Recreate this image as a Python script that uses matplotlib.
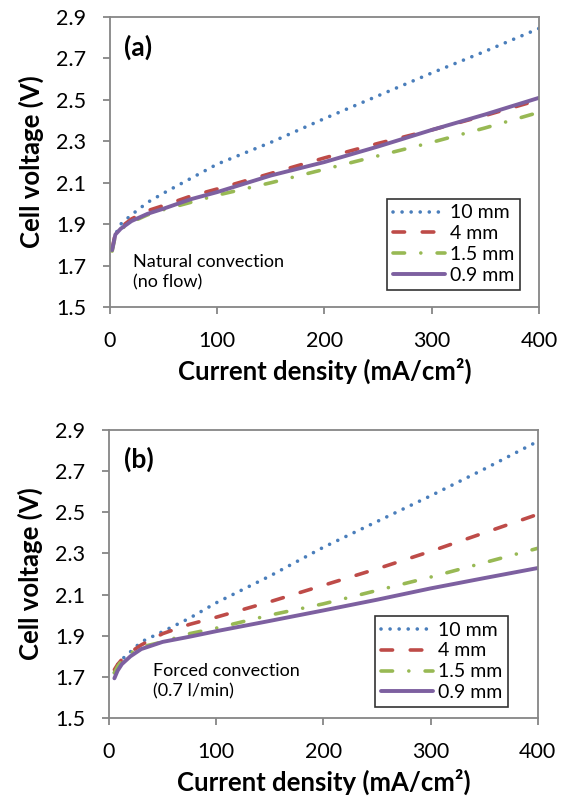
import matplotlib
matplotlib.use("Agg")
import matplotlib.pyplot as plt

plt.rcParams['font.family'] = ['Lato', 'DejaVu Sans']

# ---------------- data ----------------
labels = ["10 mm", "4 mm", "1.5 mm", "0.9 mm"]

x_a = [2, 5, 10, 20, 35, 50, 75, 100, 150, 200, 250, 300, 350, 400]
v_a_10 = [1.78, 1.85, 1.90, 1.945, 2.005, 2.05, 2.12, 2.19, 2.295, 2.41, 2.52, 2.63, 2.735, 2.845]
v_a_4 = [1.78, 1.855, 1.885, 1.925, 1.965, 1.99, 2.035, 2.07, 2.145, 2.22, 2.29, 2.355, 2.425, 2.50]
v_a_15 = [1.77, 1.845, 1.875, 1.91, 1.945, 1.97, 2.005, 2.04, 2.10, 2.165, 2.23, 2.295, 2.365, 2.44]
v_a_09 = [1.775, 1.85, 1.878, 1.915, 1.95, 1.975, 2.02, 2.055, 2.135, 2.20, 2.275, 2.355, 2.43, 2.51]

x_b = [5, 8, 12, 20, 30, 50, 75, 100, 150, 200, 250, 300, 350, 400]
v_b_10 = [1.72, 1.76, 1.785, 1.822, 1.87, 1.92, 1.985, 2.06, 2.19, 2.33, 2.455, 2.58, 2.71, 2.845]
v_b_4 = [1.735, 1.76, 1.785, 1.82, 1.855, 1.91, 1.955, 1.99, 2.065, 2.145, 2.225, 2.31, 2.40, 2.49]
v_b_15 = [1.72, 1.75, 1.78, 1.815, 1.845, 1.87, 1.91, 1.937, 2.0, 2.055, 2.12, 2.185, 2.255, 2.325]
v_b_09 = [1.693, 1.73, 1.762, 1.80, 1.835, 1.87, 1.895, 1.922, 1.972, 2.023, 2.075, 2.13, 2.18, 2.229]

x_ticks = [0, 100, 200, 300, 400]
y_ticks = [1.5, 1.7, 1.9, 2.1, 2.3, 2.5, 2.7, 2.9]

# ---------------- styles ----------------
colors = ["#4A7EBB", "#BE4B48", "#98B954", "#7D60A0"]
styles = [(0, (0.01, 2.5)), (0, (3.2, 4.9)), (0, (3.2, 4.5, 0.01, 4.5)), "-"]
widths = [2.6, 2.6, 2.6, 2.8]
grey = "#868686"

fig = plt.figure(figsize=(5.62, 8.01), dpi=100)
ax_a = fig.add_axes([0.1957, 0.6167, 0.7633, 0.362])
ax_b = fig.add_axes([0.194, 0.1036, 0.763, 0.3596])


def draw(ax, x, series, tag, note, note_xy, leg_anchor):
    for ys, c, ls, lw, lab in zip(series, colors, styles, widths, labels):
        ax.plot(x, ys, color=c, linestyle=ls, linewidth=lw, label=lab,
                dash_capstyle='round', solid_capstyle='round')
    ax.set_xlim(0, 400)
    ax.set_ylim(1.5, 2.9)
    ax.set_xticks(x_ticks)
    ax.set_yticks(y_ticks)
    ax.set_yticklabels([f"{t:.1f}" for t in y_ticks])
    for s in ax.spines.values():
        s.set_color(grey)
        s.set_linewidth(1.3)
    ax.tick_params(direction='out', length=5, width=1.3, color=grey,
                   labelsize=15.5)
    ax.tick_params(axis='x', pad=12)
    ax.tick_params(axis='y', pad=12)
    ax.set_xlabel("Current density (mA/cm²)", fontsize=18.5,
                  fontweight='bold', labelpad=5)
    ax.set_ylabel("Cell voltage (V)", fontsize=18.5, fontweight='bold', labelpad=9)
    ax.text(13.5, 2.755, tag, fontsize=19, fontweight='bold', va='center', ha='left')
    ax.text(note_xy[0], note_xy[1], note, fontsize=13, va='center', ha='left',
            linespacing=1.35)
    leg = ax.legend(loc='lower left', bbox_to_anchor=leg_anchor, fontsize=14,
                    frameon=True, fancybox=False, edgecolor='black',
                    handlelength=2.7, handletextpad=0.25, labelspacing=0.2,
                    borderpad=0.3, borderaxespad=0)
    leg.get_frame().set_linewidth(1.2)


draw(ax_a, x_a, [v_a_10, v_a_4, v_a_15, v_a_09], "(a)",
     "Natural convection\n(no flow)", (21, 1.667), (0.646, 0.059))
draw(ax_b, x_b, [v_b_10, v_b_4, v_b_15, v_b_09], "(b)",
     "Forced convection\n(0.7 l/min)", (41, 1.68), (0.62, 0.038))

fig.savefig("out.png", dpi=100)
